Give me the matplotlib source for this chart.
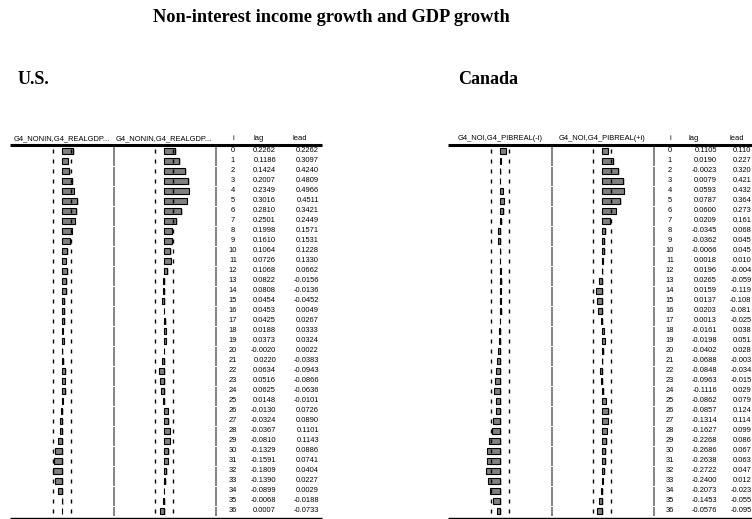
import numpy as np
import matplotlib
matplotlib.use("Agg")
import matplotlib.pyplot as plt

# cross-correlations
lags = np.arange(37)

us_lag = [0.2262, 0.1186, 0.1424, 0.2007, 0.2349, 0.3016, 0.2810, 0.2501, 0.1998, 0.1610,
          0.1064, 0.0726, 0.1068, 0.0822, 0.0808, 0.0454, 0.0453, 0.0425, 0.0188, 0.0373,
          -0.0020, 0.0220, 0.0634, 0.0516, 0.0625, 0.0148, -0.0130, -0.0324, -0.0367, -0.0810,
          -0.1329, -0.1591, -0.1809, -0.1390, -0.0899, -0.0068, 0.0007]
us_lead = [0.2262, 0.3097, 0.4240, 0.4809, 0.4966, 0.4511, 0.3421, 0.2449, 0.1571, 0.1531,
           0.1228, 0.1330, 0.0662, -0.0156, -0.0136, -0.0452, 0.0049, 0.0267, 0.0333, 0.0324,
           0.0022, -0.0383, -0.0943, -0.0866, -0.0636, -0.0101, 0.0726, 0.0890, 0.1101, 0.1143,
           0.0886, 0.0741, 0.0404, 0.0227, 0.0029, -0.0188, -0.0733]

ca_lag = [0.1105, 0.0190, -0.0023, 0.0079, 0.0593, 0.0787, 0.0600, 0.0209, -0.0345, -0.0362,
          -0.0066, 0.0018, 0.0196, 0.0265, 0.0159, 0.0137, 0.0203, 0.0013, -0.0161, -0.0198,
          -0.0402, -0.0688, -0.0848, -0.0963, -0.1116, -0.0862, -0.0857, -0.1314, -0.1627, -0.2268,
          -0.2686, -0.2638, -0.2722, -0.2400, -0.2073, -0.1453, -0.0576]
# lead column is cut off at the right edge, only 3 decimals readable
ca_lead = [0.110, 0.227, 0.320, 0.421, 0.432, 0.364, 0.273, 0.161, 0.068, 0.045,
           0.045, 0.010, -0.004, -0.059, -0.119, -0.108, -0.081, -0.025, 0.038, 0.051,
           0.028, -0.003, -0.034, -0.015, 0.029, 0.079, 0.124, 0.114, 0.099, 0.086,
           0.067, 0.063, 0.047, 0.012, -0.023, -0.055, -0.095]

us_heads = ["G4_NONIN,G4_REALGDP...", "G4_NONIN,G4_REALGDP..."]
ca_heads = ["G4_NOI,G4_PIBREAL(-i)", "G4_NOI,G4_PIBREAL(+i)"]
band = 0.18

W, H = 752, 519
fig = plt.figure(figsize=(W / 100, H / 100), dpi=100)
base = fig.add_axes([0, 0, 1, 1])
base.set_xlim(0, W)
base.set_ylim(H, 0)
base.axis("off")

serif = "Liberation Serif"
sans = "Liberation Sans"
fs = 5.4

base.text(331, 18, "Non-interest income growth and GDP growth", ha="center", va="center",
          fontsize=13.2, fontweight="bold", family=serif)
base.text(18, 79, "U.S.", ha="left", va="center", fontsize=13, fontweight="bold", family=serif)
base.text(458, 79, "Canada", ha="left", va="center", fontsize=13, fontweight="bold", family=serif)

row0 = 151
step = 10
top = row0 - step / 2
bottom = top + 37 * step


def panel(x0, vals):
    # one correlogram column, 100 px wide for -1..1
    ax = fig.add_axes([x0 / W, 1 - bottom / H, 100 / W, 37 * step / H])
    ax.set_xlim(-1, 1)
    ax.set_ylim(36.5, -0.5)
    ax.axis("off")
    ax.barh(lags + 0.12, vals, height=0.6, left=0.03, color="#c8c8c8", lw=0)
    ax.barh(lags, vals, height=0.6, color="#808080", edgecolor="black", lw=0.8)
    for b in (-band, band):
        ax.vlines(np.full(37, b), lags - 0.22, lags + 0.22, color="black", lw=1)


def table(x0, heads, lag, lead, xi, xlag, xlead, hlag, hlead, xend, lead_fmt):
    panel(x0, lag)
    panel(x0 + 102, lead)
    for k, h in enumerate(heads):
        base.text(x0 + 50 + 102 * k, 139, h, ha="center", va="center", fontsize=fs, family=sans)
    base.text(xi, 139, "i", ha="center", va="center", fontsize=fs, family=sans)
    base.text(hlag, 139, "lag", ha="center", va="center", fontsize=fs, family=sans)
    base.text(hlead, 139, "lead", ha="center", va="center", fontsize=fs, family=sans)
    base.plot([x0 - 2, xend], [145, 145], color="black", lw=2.2, solid_capstyle="butt")
    base.plot([x0 - 2, xend], [518, 518], color="black", lw=1.0, solid_capstyle="butt")
    for sx in (x0 + 102, x0 + 204):
        for k in range(0, 37, 2):
            base.plot([sx, sx], [top + k * step + 1, min(top + (k + 2) * step, bottom)],
                      color="#6e6e6e", lw=1.2, solid_capstyle="butt")
    for i in lags:
        y = row0 + i * step
        base.text(xi, y, str(i), ha="center", va="center", fontsize=fs, family=sans)
        base.text(xlag, y, f"{lag[i]:.4f}", ha="right", va="center", fontsize=fs, family=sans)
        base.text(xlead, y, lead_fmt.format(lead[i]), ha="right", va="center",
                  fontsize=fs, family=sans)


table(12, us_heads, us_lag, us_lead, 233, 276, 319, 259, 300, 322, "{:.4f}")
table(450, ca_heads, ca_lag, ca_lead, 670, 717, 751.5, 694, 737, 752, "{:.3f}")

fig.savefig("out.png", dpi=100)
